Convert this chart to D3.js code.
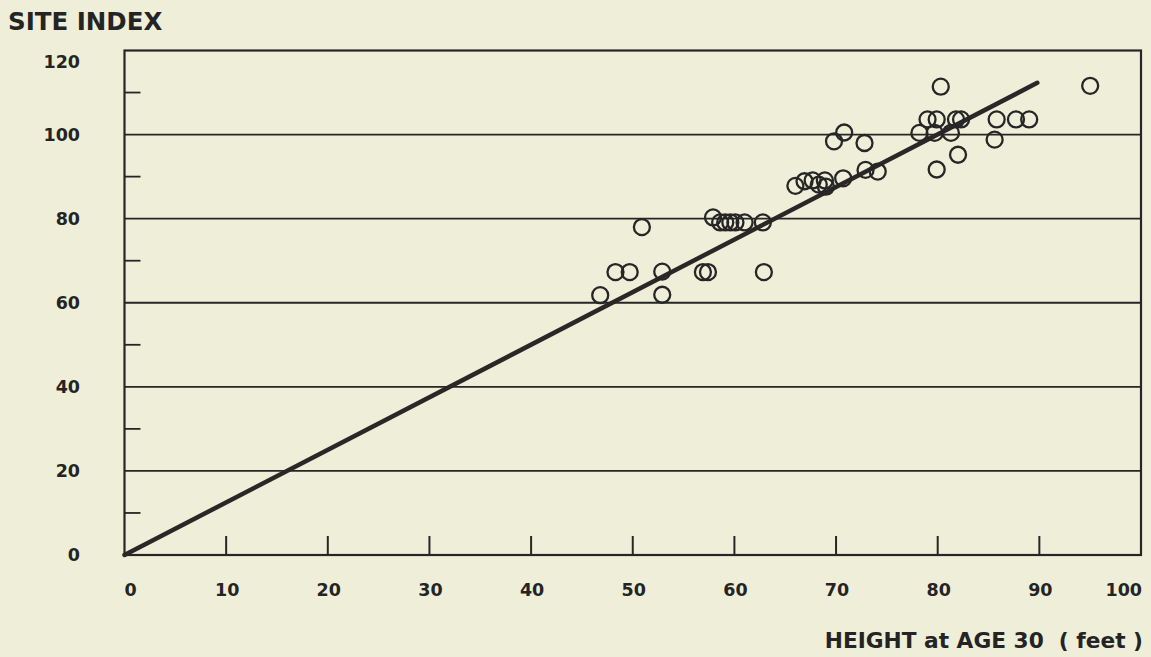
<!DOCTYPE html>
<html>
<head>
<meta charset="utf-8">
<script src="https://cdn.jsdelivr.net/npm/d3@7"></script>
<style>
  html, body { margin: 0; padding: 0; background: #efefd9; }
  svg { display: block; }
  text { font-family: "DejaVu Sans", sans-serif; font-weight: bold; fill: #242424; }
</style>
</head>
<body>
<svg id="chart" width="1151" height="657"></svg>
<script>
// Observed stands: height at age 30 (feet) and site index
const heights = [
  46.8, 48.3, 49.7, 50.9, 52.9, 52.9, 56.9, 57.4, 62.9,
  57.9, 58.6, 59.1, 59.6, 60.1, 61.0, 62.8,
  66.0, 66.9, 67.7, 68.3, 68.9, 69.0, 70.7, 72.9, 74.1,
  69.8, 70.8, 72.8,
  78.2, 79.0, 79.9, 79.7, 80.3, 81.3, 81.8, 82.3, 82.0, 79.9,
  85.6, 85.8, 87.7, 89.0, 95.0
];
const siteIndex = [
  61.8, 67.3, 67.3, 78.0, 67.4, 61.9, 67.3, 67.3, 67.3,
  80.3, 79.1, 79.1, 79.1, 79.1, 79.1, 79.1,
  87.8, 88.9, 89.1, 88.1, 89.1, 87.6, 89.6, 91.6, 91.2,
  98.4, 100.5, 98.0,
  100.4, 103.6, 103.6, 100.4, 111.4, 100.4, 103.6, 103.6, 95.2, 91.7,
  98.8, 103.6, 103.6, 103.6, 111.6
];

// Fitted site-index line: endpoints of the drawn curve
const fitHeights = [0, 89.8];
const fitIndex = [0, 112.3];

const gridValues = [20, 40, 60, 80, 100];
const yMinorTicks = [10, 30, 50, 70, 90, 110];
const yLabels = [0, 20, 40, 60, 80, 100, 120];
const xMinorTicks = [10, 20, 30, 40, 50, 60, 70, 80, 90];
const xLabels = [0, 10, 20, 30, 40, 50, 60, 70, 80, 90, 100];

const svg = d3.select("#chart");
const x = d3.scaleLinear().domain([0, 100]).range([124.5, 1141]);
const y = d3.scaleLinear().domain([0, 120]).range([555, 50.5]);

const ink = "#262626";

// Frame and horizontal rules
const frame = svg.append("g").attr("fill", "none").attr("stroke", ink);
frame.append("rect")
  .attr("x", x(0)).attr("y", y(120))
  .attr("width", x(100) - x(0)).attr("height", y(0) - y(120))
  .attr("stroke-width", 2.2);
frame.selectAll("line.grid").data(gridValues).join("line")
  .attr("class", "grid")
  .attr("x1", x(0)).attr("x2", x(100))
  .attr("y1", d => y(d)).attr("y2", d => y(d))
  .attr("stroke-width", 1.8);

// Short inward ticks on the left axis
frame.selectAll("line.yt").data(yMinorTicks).join("line")
  .attr("class", "yt")
  .attr("x1", x(0)).attr("x2", x(0) + 16)
  .attr("y1", d => y(d)).attr("y2", d => y(d))
  .attr("stroke-width", 1.8);

// Short inward ticks on the bottom axis
frame.selectAll("line.xt").data(xMinorTicks).join("line")
  .attr("class", "xt")
  .attr("x1", d => x(d)).attr("x2", d => x(d))
  .attr("y1", y(0)).attr("y2", y(0) - 19)
  .attr("stroke-width", 2);

// Y tick labels
svg.append("g").selectAll("text").data(yLabels).join("text")
  .attr("x", 80)
  .attr("y", d => y(d) + (d === 120 ? 11 : 0))
  .attr("dy", "0.36em")
  .attr("text-anchor", "end")
  .attr("font-size", 17.5)
  .text(d => d);

// X tick labels
svg.append("g").selectAll("text").data(xLabels).join("text")
  .attr("x", d => d === 0 ? x(0) : d === 100 ? x(100) + 1 : x(d) + 1)
  .attr("y", 596)
  .attr("text-anchor", d => d === 0 ? "start" : d === 100 ? "end" : "middle")
  .attr("font-size", 17.5)
  .text(d => d);

// Axis titles
svg.append("text")
  .attr("x", 8).attr("y", 30)
  .attr("font-size", 24.5)
  .text("SITE INDEX");

svg.append("text")
  .attr("x", 1143).attr("y", 648)
  .attr("text-anchor", "end")
  .attr("font-size", 21.7)
  .attr("xml:space", "preserve")
  .text("HEIGHT at AGE 30  ( feet )");

// Fitted line
const fit = fitHeights.map((h, i) => [h, fitIndex[i]]);
svg.append("path")
  .datum(fit)
  .attr("fill", "none")
  .attr("stroke", "#2b2727")
  .attr("stroke-width", 4.5)
  .attr("stroke-linecap", "round")
  .attr("d", d3.line().x(d => x(d[0])).y(d => y(d[1])));

// Observations
const pts = heights.map((h, i) => ({ h, s: siteIndex[i] }));
svg.append("g").selectAll("circle").data(pts).join("circle")
  .attr("cx", d => x(d.h))
  .attr("cy", d => y(d.s))
  .attr("r", 8)
  .attr("fill", "none")
  .attr("stroke", ink)
  .attr("stroke-width", 2.3);
</script>
</body>
</html>
